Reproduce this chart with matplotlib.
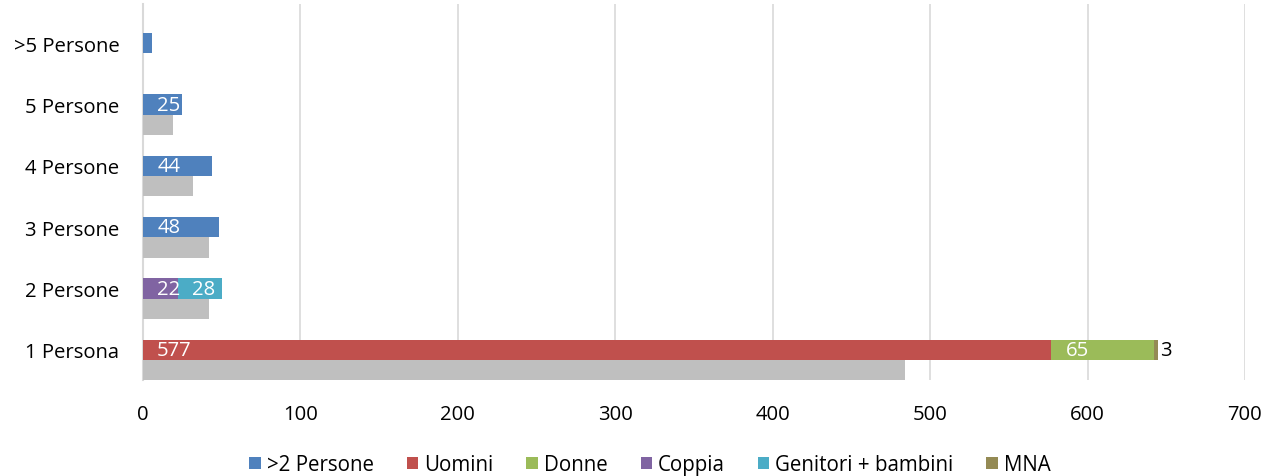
import numpy as np
import matplotlib.pyplot as plt

plt.rcParams['font.family'] = ['Open Sans', 'DejaVu Sans']

categories = ['1 Persona', '2 Persone', '3 Persone', '4 Persone', '5 Persone', '>5 Persone']
piu_2 = [0, 0, 48, 44, 25, 6]
uomini = [577, 0, 0, 0, 0, 0]
donne = [65, 0, 0, 0, 0, 0]
coppia = [0, 22, 0, 0, 0, 0]
genitori = [0, 28, 0, 0, 0, 0]
mna = [3, 0, 0, 0, 0, 0]
confronto = [484, 42, 42, 32, 19, 0]

series = [
    ('>2 Persone', piu_2, '#4f81bd'),
    ('Uomini', uomini, '#c0504d'),
    ('Donne', donne, '#9bbb59'),
    ('Coppia', coppia, '#8064a2'),
    ('Genitori + bambini', genitori, '#4bacc6'),
    ('MNA', mna, '#948a54'),
]

fs = 14.6

fig = plt.figure(figsize=(12.67, 4.77), dpi=100)
ax = fig.add_axes([143 / 1267, 1 - 381 / 477, (1245 - 143) / 1267, (381 - 5) / 477])

y = np.arange(len(categories))
h = 0.33
left = np.zeros(len(categories))
for name, vals, col in series:
    vals = np.array(vals, dtype=float)
    ax.barh(y, vals, height=h, left=left, color=col, label=name, zorder=3)
    for i, v in enumerate(vals):
        # la barra ">5 Persone" non ha etichetta
        if v == 0 or (name == '>2 Persone' and categories[i] == '>5 Persone'):
            continue
        if name == 'MNA':
            ax.text(left[i] + v + 1, y[i], f'{int(v)}', va='center', ha='left',
                    color='black', fontsize=fs, zorder=4)
        else:
            ax.text(left[i] + 9, y[i], f'{int(v)}', va='center', ha='left',
                    color='white', fontsize=fs, zorder=4)
    left += vals

ax.barh(y - h, confronto, height=h, color='#bfbfbf', zorder=3)

ax.set_xlim(0, 700)
ax.set_ylim(-0.49, 5.64)
ax.set_xticks(range(0, 701, 100))
ax.set_yticks(y)
ax.set_yticklabels(categories)
ax.tick_params(axis='both', length=0, labelsize=fs)
ax.tick_params(axis='y', pad=17)
ax.tick_params(axis='x', pad=17)
ax.grid(axis='x', color='#d9d9d9', linewidth=1.2, zorder=0)
for s in ['top', 'right', 'bottom']:
    ax.spines[s].set_visible(False)
ax.spines['left'].set_color('#d9d9d9')
ax.spines['left'].set_linewidth(1.5)

fig.legend(*ax.get_legend_handles_labels(), loc='center',
           bbox_to_anchor=(650 / 1267, 1 - 466 / 477), ncol=6,
           frameon=False, fontsize=14.8, handlelength=0.55, handleheight=0.55,
           handletextpad=0.3, columnspacing=1.6)

fig.savefig('out.png', dpi=100)
